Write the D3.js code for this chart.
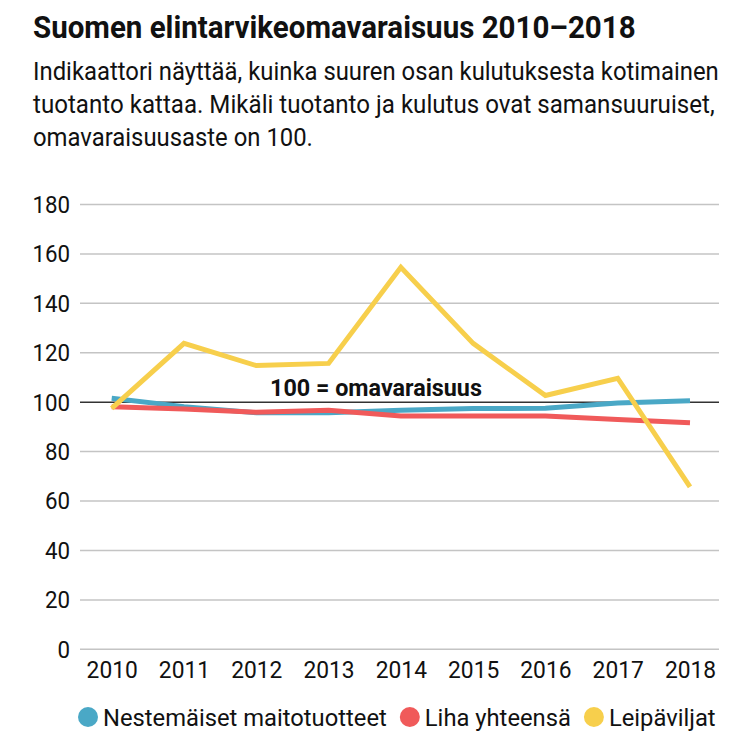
<!DOCTYPE html>
<html>
<head>
<meta charset="utf-8">
<script src="https://cdn.jsdelivr.net/npm/d3@7"></script>
<style>
  body { margin: 0; background: #fff; }
  text { font-family: Roboto, "Noto Sans", sans-serif; fill: #111; }
</style>
</head>
<body>
<div id="chart"></div>
<script>
/* DATA */
const years = ["2010", "2011", "2012", "2013", "2014", "2015", "2016", "2017", "2018"];
const maito = [101.4, 98, 95.5, 95.5, 96.5, 97.2, 97.3, 99.5, 100.4];
const liha = [98, 97, 95.7, 96.5, 94.2, 94.2, 94.2, 92.8, 91.5];
const vilja = [97.3, 123.6, 114.6, 115.5, 154.4, 123.6, 102.5, 109.5, 65.5];
const yTicks = [0, 20, 40, 60, 80, 100, 120, 140, 160, 180];
const seriesNames = ["Nestemäiset maitotuotteet", "Liha yhteensä", "Leipäviljat"];
const colors = ["#4aa8c6", "#f05a5a", "#f7cf4c"];

const title = "Suomen elintarvikeomavaraisuus 2010–2018";
const subtitle = [
  "Indikaattori näyttää, kuinka suuren osan kulutuksesta kotimainen",
  "tuotanto kattaa. Mikäli tuotanto ja kulutus ovat samansuuruiset,",
  "omavaraisuusaste on 100."
];

const width = 750, height = 739;
const gridLeft = 80, gridRight = 719;

// squeeze a text horizontally (the original uses a condensed face)
// k < 5 is a factor, otherwise it is a target width in px
function condense(sel, k) {
  sel.each(function (d, i) {
    const t = d3.select(this);
    const len = this.getComputedTextLength();
    const kk = typeof k === "function" ? k(d, i) : k;
    const f = kk > 5 ? kk / len : kk;
    const x0 = +t.attr("x") || 0;
    t.attr("x", 0).attr("transform", `translate(${x0},0) scale(${f},1)`);
  });
}

const svg = d3.select("#chart").append("svg")
  .attr("width", width)
  .attr("height", height);

// TITLE + SUBTITLE
svg.append("text")
  .attr("x", 33).attr("y", 38)
  .style("font-size", "31px").style("font-weight", 700)
  .text(title)
  .call(condense, 603);

const subWidths = [686, 682, 280];
svg.selectAll(".sub")
  .data(subtitle)
  .join("text")
  .attr("class", "sub")
  .attr("x", 33)
  .attr("y", (d, i) => 80 + i * 33)
  .style("font-size", "25.5px")
  .text(d => d)
  .call(condense, (d, i) => subWidths[i]);

// SCALES
const xScale = d3.scalePoint().domain(years).range([111.7, 690]);
const yScale = d3.scaleLinear().domain([0, 180]).range([648.8, 204]);

// GRID / Y AXIS
const yAxis = d3.axisLeft(yScale)
  .tickValues(yTicks)
  .tickSize(-(gridRight - gridLeft))
  .tickPadding(10)
  .tickFormat(d3.format("d"));

const yG = svg.append("g")
  .attr("transform", `translate(${gridLeft},0)`)
  .call(yAxis);
yG.select(".domain").remove();
yG.selectAll(".tick line")
  .attr("stroke", d => d === 100 ? "#333" : "#c4c4c4")
  .attr("stroke-width", 1.5);
yG.selectAll(".tick text")
  .attr("x", -10)
  .attr("dy", "0.35em")
  .style("font-size", "24px")
  .style("font-family", "Roboto, sans-serif")
  .attr("fill", "#111")
  .call(condense, 0.93);

// X AXIS
const xAxis = d3.axisBottom(xScale).tickSize(0).tickPadding(12);
const xG = svg.append("g")
  .attr("transform", `translate(0,${yScale(0)})`)
  .call(xAxis);
xG.select(".domain").remove();
xG.selectAll(".tick text")
  .attr("dy", "0.71em")
  .style("font-size", "24px")
  .style("font-family", "Roboto, sans-serif")
  .attr("fill", "#111")
  .call(condense, 0.95);

// 100 label
svg.append("text")
  .attr("x", 376).attr("y", 396)
  .attr("text-anchor", "middle")
  .style("font-size", "23px").style("font-weight", 700)
  .text("100 = omavaraisuus")
  .call(condense, 212);

// LINES
const line = d3.line()
  .x((d, i) => xScale(years[i]))
  .y(d => yScale(d));

const allSeries = [maito, liha, vilja];
svg.selectAll(".series")
  .data(allSeries)
  .join("path")
  .attr("class", "series")
  .attr("fill", "none")
  .attr("stroke", (d, i) => colors[i])
  .attr("stroke-width", 5)
  .attr("stroke-linejoin", "miter")
  .attr("d", line);

// LEGEND
let lx = 78;
seriesNames.forEach((name, i) => {
  const g = svg.append("g");
  g.append("circle")
    .attr("cx", lx + 10).attr("cy", 717).attr("r", 10)
    .attr("fill", colors[i]);
  const t = g.append("text")
    .attr("x", lx + 25).attr("y", 726)
    .style("font-size", "24px")
    .text(name);
  const w = t.node().getComputedTextLength() * 0.99;
  t.call(condense, 0.99);
  lx = lx + 25 + w + 13;
});
</script>
</body>
</html>
